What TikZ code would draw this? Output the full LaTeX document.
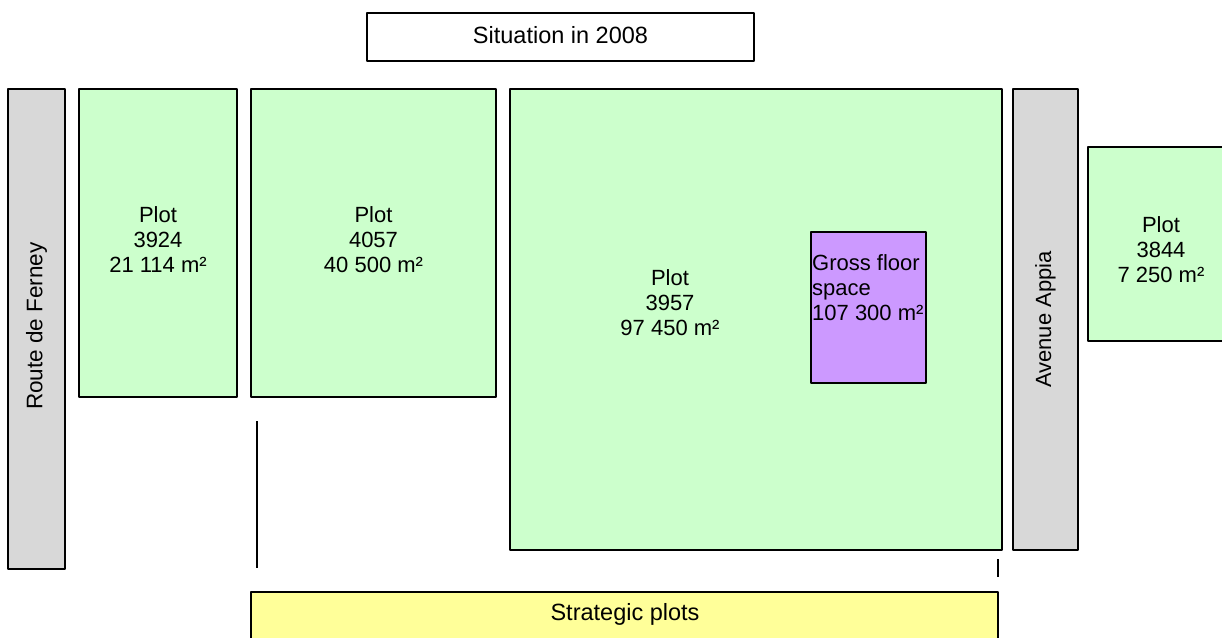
\documentclass[tikz,border=0pt]{standalone}
\usepackage{fontspec}
\setmainfont{Liberation Sans}
\definecolor{plotgreen}{HTML}{CCFFCC}
\definecolor{roadgrey}{HTML}{D8D8D8}
\definecolor{floorviolet}{HTML}{CC99FF}
\definecolor{stratyellow}{HTML}{FFFF99}
\begin{document}
\begin{tikzpicture}[x=1pt,y=-1pt,line join=round,font=\fontsize{22}{25}\selectfont,
	box/.style={draw=black,line width=1.6pt},
	txt/.style={inner sep=0pt,align=center}]
	\useasboundingbox (0,0) rectangle (1222,637);
	\clip (0,0) rectangle (1222,637);
	% title
	\draw[box,fill=white] (367,13) rectangle (754,61);
	\node[txt,font=\fontsize{23.5}{25}\selectfont] (title) at (560.5,35) {Situation in 2008};
	% roads
	\draw[box,fill=roadgrey] (8,89) rectangle (65,569) (1013,89) rectangle (1078,550);
	\node[txt,rotate=90,font=\fontsize{22.5}{25}\selectfont] (ferney) at (36.5,326) {Route de Ferney};
	\node[txt,rotate=90] (appia) at (1045.5,319.5) {Avenue Appia};
	% plots
	\draw[box,fill=plotgreen] (79,89) rectangle (237,397) (251,89) rectangle (496,397)
		(510,89) rectangle (1002,550) (1088,147) rectangle (1240,341);
	\node[txt] (p3924) at (158,240) {Plot\\3924\\21 114 m²};
	\node[txt] (p4057) at (373.5,240) {Plot\\4057\\40 500 m²};
	\node[txt] (p3957) at (670,303) {Plot\\3957\\97 450 m²};
	\node[txt] (p3844) at (1161,250) {Plot\\3844\\7 250 m²};
	% floor space
	\draw[box,fill=floorviolet] (811,232) rectangle (926,383);
	\node[txt,align=left,anchor=west] (gfs) at (812,288) {Gross floor\\space\\107 300 m²};
	% strategic plots
	\draw[line width=1.6pt] (257,421) -- (257,568) (998,559) -- (998,577);
	\draw[box,fill=stratyellow] (251,592) rectangle (998,650);
	\node[txt,font=\fontsize{23.5}{25}\selectfont] (strat) at (625,614) {Strategic plots};
\end{tikzpicture}
\end{document}
